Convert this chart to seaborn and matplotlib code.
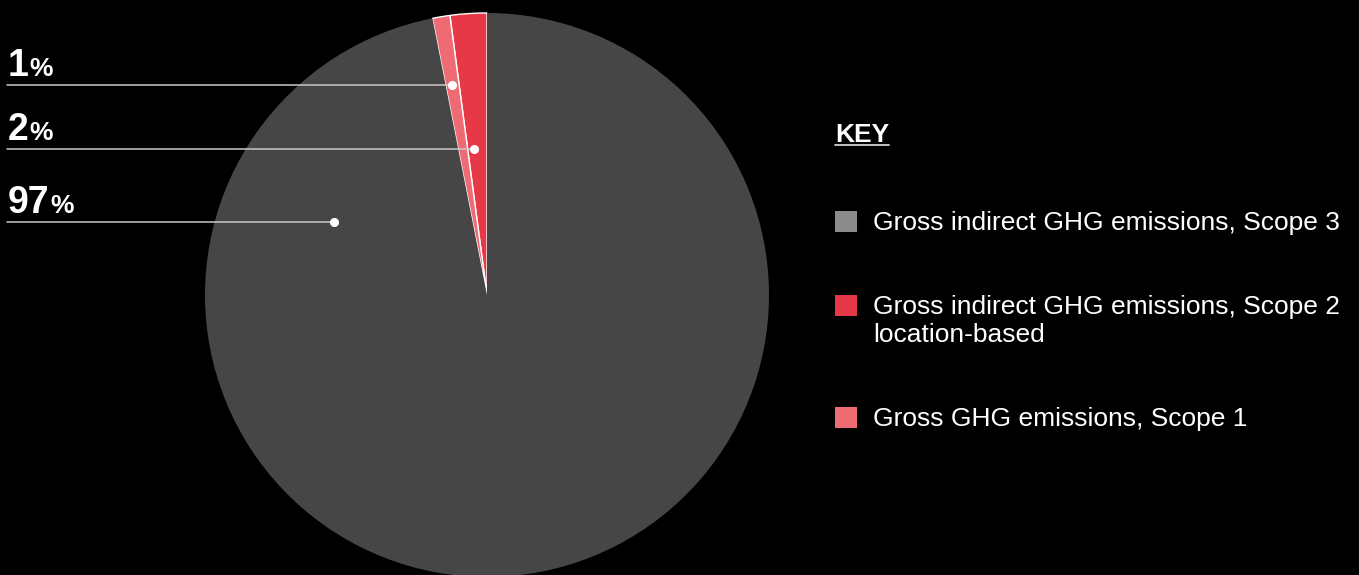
import matplotlib
matplotlib.use("Agg")
import numpy as np
import seaborn as sns
import matplotlib.pyplot as plt
from matplotlib.patches import Patch
from matplotlib.lines import Line2D
from matplotlib.transforms import blended_transform_factory

# datos
categorias = ["Gross indirect GHG emissions, Scope 3",
              "Gross indirect GHG emissions, Scope 2\nlocation-based",
              "Gross GHG emissions, Scope 1"]
valores = [96.9, 2.1, 1.0]
etiquetas = ["97", "2", "1"]
colores_pie = ["#464646", "#e73847", "#ef6b73"]
colores_key = ["#8c8c8c", "#e73847", "#ef6b73"]
orden_pie = [1, 2, 0]  # el pie empieza arriba con scope 2, luego scope 1

# donde va el punto de cada etiqueta: (fraccion del angulo, fraccion del radio)
anclas = {0: (0.153, 0.60), 1: (0.67, 0.52), 2: (0.54, 0.755)}

sns.set_style("dark", {"axes.facecolor": "black", "figure.facecolor": "black"})
plt.rcParams['font.family'] = ['Liberation Sans', 'DejaVu Sans']

W, H = 1359, 575
fig = plt.figure(figsize=(W / 100, H / 100), dpi=100, facecolor="black")
ax = fig.add_axes([205 / W, -2 / H, 564 / W, 564 / H])
ax.set_facecolor("black")

wedges, _ = ax.pie([valores[i] for i in orden_pie],
                   colors=[colores_pie[i] for i in orden_pie],
                   startangle=90, counterclock=True, radius=1)
for w, i in zip(wedges, orden_pie):
    if i == 0:
        w.set_edgecolor("none")
    else:
        w.set_edgecolor("white")
        w.set_linewidth(1.0)
ax.set_xlim(-1, 1)
ax.set_ylim(-1, 1)
ax.set_aspect("equal")
ax.axis("off")

# x de datos equivalente al borde izquierdo de la figura
x_izq = ax.transData.inverted().transform(fig.transFigure.transform((7 / W, 0)))[0]
trans = blended_transform_factory(fig.transFigure, ax.transData)

fig.canvas.draw()
renderer = fig.canvas.get_renderer()

for w, i in zip(wedges, orden_pie):
    fa, fr = anclas[i]
    ang = np.deg2rad(w.theta1 + fa * (w.theta2 - w.theta1))
    x, y = fr * np.cos(ang), fr * np.sin(ang)
    ax.plot([x_izq, x], [y, y], color="#c8c8c8", lw=1.1, clip_on=False, zorder=5)
    ax.plot(x, y, "o", color="white", ms=5.5, clip_on=False, zorder=6)
    t = ax.annotate(etiquetas[i], xy=(8 / W, y), xycoords=trans, xytext=(0, 6.5),
                    textcoords="offset points", fontsize=27, weight="bold",
                    color="white", ha="left", va="baseline")
    bb = t.get_window_extent(renderer)
    ax.annotate("%", xy=(8 / W, y), xycoords=trans,
                xytext=(bb.width * 72 / 100 + 0.5, 6.5), textcoords="offset points",
                fontsize=19, weight="bold", color="white", ha="left", va="baseline")

# titulo KEY subrayado
key = fig.text(835 / W, 1 - 142 / H, "KEY", fontsize=19, weight="bold",
               color="white", ha="left", va="baseline")
kb = key.get_window_extent(renderer)
fig.add_artist(Line2D([kb.x0 / W, kb.x1 / W], [1 - 145 / H, 1 - 145 / H],
                      color="#d0d0d0", lw=1.3, transform=fig.transFigure))

handles = [Patch(facecolor=c, edgecolor="none", label=l)
           for c, l in zip(colores_key, categorias)]
leg = fig.legend(handles=handles, loc="upper left", bbox_to_anchor=(835 / W, 1 - 211 / H),
                 frameon=False, fontsize=19, labelcolor="white", handlelength=0.85,
                 handleheight=0.85, handletextpad=0.6, labelspacing=2.28,
                 borderpad=0, borderaxespad=0)
for txt in leg.get_texts():
    txt.set_linespacing(1.2)
# cuadrito alineado con la primera linea del texto
for col in leg._legend_handle_box.get_children():
    for fila in col.get_children():
        fila.align = "top"

fig.savefig("out.png", dpi=100, facecolor="black")
